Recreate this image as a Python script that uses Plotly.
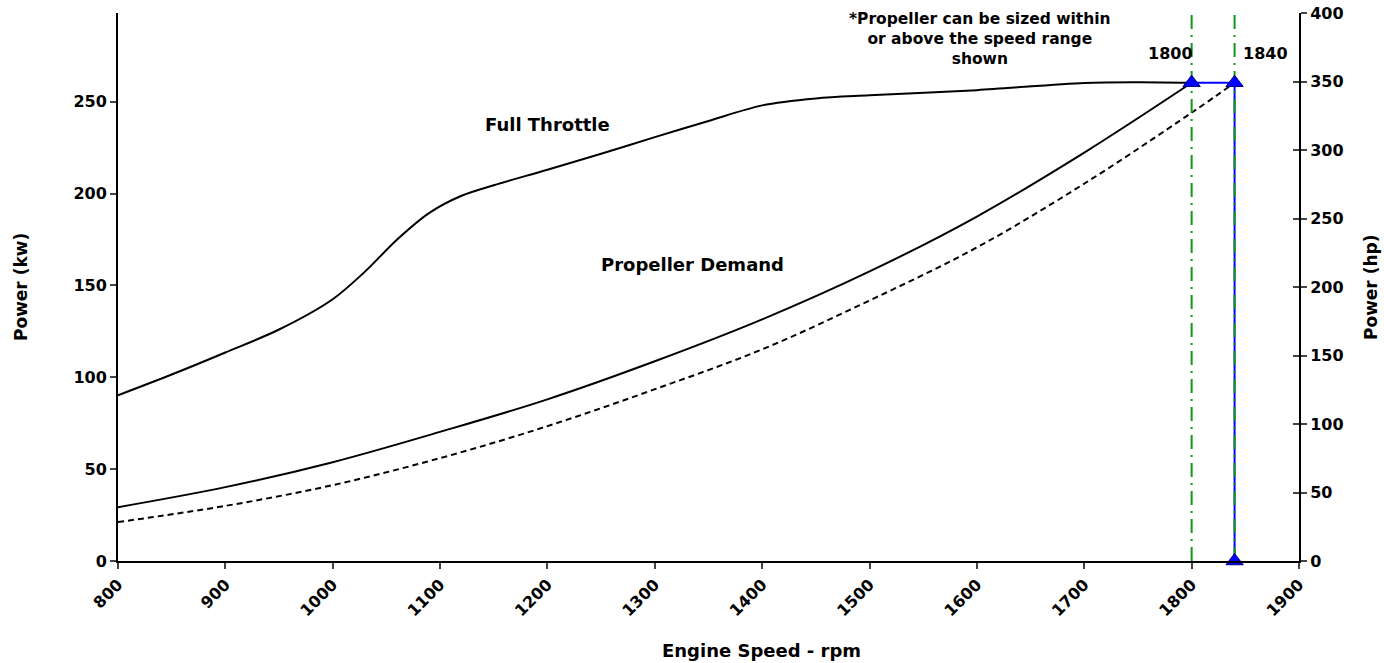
import plotly.graph_objects as go

# Data
rpm = [800, 850, 900, 950, 1000, 1030, 1060, 1090, 1120, 1150, 1200, 1250, 1300, 1350, 1400, 1450, 1500, 1600, 1700, 1750, 1800]
full_throttle_kw = [90.2, 101.5, 113.5, 126.0, 142.5, 157.5, 175.0, 189.5, 198.8, 204.5, 213.0, 221.7, 230.7, 239.5, 248.0, 251.8, 253.5, 256.3, 260.2, 260.6, 260.3]

prop_rpm = [800, 900, 1000, 1100, 1200, 1300, 1400, 1500, 1600, 1700, 1800]
prop_demand_kw = [29.3, 40.2, 53.8, 70.3, 88.0, 108.7, 131.5, 157.6, 187.5, 222.3, 260.3]

prop2_rpm = [800, 900, 1000, 1100, 1200, 1300, 1400, 1500, 1600, 1700, 1800, 1840]
prop2_kw = [21.2, 30.0, 41.3, 56.0, 73.4, 93.5, 115.2, 141.8, 170.7, 205.4, 244.0, 260.3]

rated_rpm = [1800, 1840]
rated_kw = 260.3
hp_to_kw = 0.7457
hp_max = 400
kw_max = hp_max * hp_to_kw

x_ticks = list(range(800, 2000, 100))
kw_ticks = list(range(0, 300, 50))
hp_ticks = list(range(0, 450, 50))

FAM = "DejaVu Sans, Arial, sans-serif"
font = dict(family=FAM, size=16, color="black")
bold = lambda s: "<b>" + s + "</b>"

fig = go.Figure()

fig.add_trace(go.Scatter(x=rpm, y=full_throttle_kw, mode="lines",
                         line=dict(color="black", width=2, shape="spline", smoothing=0.9), showlegend=False))
fig.add_trace(go.Scatter(x=prop_rpm, y=prop_demand_kw, mode="lines",
                         line=dict(color="black", width=2, shape="spline"), showlegend=False))
fig.add_trace(go.Scatter(x=prop2_rpm, y=prop2_kw, mode="lines",
                         line=dict(color="black", width=2, dash="6px,4px", shape="spline"), showlegend=False))

# Blue rated line
fig.add_trace(go.Scatter(x=[rated_rpm[0], rated_rpm[1], rated_rpm[1]], y=[rated_kw, rated_kw, 0], mode="lines",
                         line=dict(color="#0000ff", width=2), showlegend=False))

# Green dash-dot verticals
for r in rated_rpm:
    fig.add_trace(go.Scatter(x=[r, r], y=[0, kw_max], mode="lines",
                             line=dict(color="#12961a", width=2, dash="14px,6px,2px,6px"), showlegend=False))

# Markers
fig.add_trace(go.Scatter(x=[rated_rpm[0], rated_rpm[1], rated_rpm[1]], y=[rated_kw, rated_kw, 0], mode="markers",
                         marker=dict(symbol="triangle-up", size=15, color="#0000ff", line=dict(color="#000080", width=1)),
                         showlegend=False, cliponaxis=False))

# hp axis helper traces (invisible)
fig.add_trace(go.Scatter(x=[800], y=[0], yaxis="y2", mode="markers", marker=dict(opacity=0), showlegend=False, hoverinfo="skip"))
fig.add_trace(go.Scatter(x=[800], y=[0], yaxis="y3", mode="markers", marker=dict(opacity=0), showlegend=False, hoverinfo="skip"))

anns = [
    dict(x=1200, y=237.5, text=bold("Full Throttle"), font=dict(size=18)),
    dict(x=1335, y=161.4, text=bold("Propeller Demand"), font=dict(size=18)),
    dict(x=1780, y=276, text=bold("1800")),
    dict(x=1869, y=276, text=bold("1840")),
    dict(x=1603, y=284, text=bold("*Propeller can be sized within<br>or above the speed range<br>shown"), font=dict(size=15.5)),
]
for a in anns:
    f = dict(font)
    f.update(a.pop("font", {}))
    fig.add_annotation(xref="x", yref="y", showarrow=False, font=f, xanchor="center", yanchor="middle", **a)

# Body margin is removed in the page, so figure pixels == page pixels
W, H = 1384, 663
PL, PT, PW, PH = 118, 13, 1181, 548
def px_to_paper(px, py):
    return (px - PL) / PW, 1 - (py - PT) / PH

titles = [
    (761, 650, "Engine Speed - rpm", 0, 18),
    (21, 287, "Power (kw)", -90, 17),
    (1371, 287, "Power (hp)", -90, 17),
]
for px, py, txt, ang, sz in titles:
    tx, ty = px_to_paper(px, py)
    fig.add_annotation(xref="paper", yref="paper", x=tx, y=ty, text=bold(txt), showarrow=False, textangle=ang,
                       xanchor="center", yanchor="middle",
                       font=dict(family=FAM, size=sz, color="black"))

fig.update_layout(
    width=W, height=H,
    margin=dict(l=PL, r=W - PL - PW, t=PT, b=H - PT - PH, autoexpand=False),
    plot_bgcolor="white", paper_bgcolor="white",
    font=font,
    xaxis=dict(range=[800, 1900], tickvals=x_ticks, automargin=False, ticklabeloverflow="allow",
               ticktext=[bold(str(v)) for v in x_ticks], tickangle=-45,
               ticks="outside", ticklen=6, tickwidth=2, showline=True, linewidth=2, linecolor="black",
               showgrid=False, zeroline=False),
    yaxis=dict(range=[0, kw_max], tickvals=kw_ticks, ticktext=[bold(str(v)) for v in kw_ticks], automargin=False,
               ticklabeloverflow="allow",
               ticks="outside", ticklen=6, tickwidth=2, showline=True, linewidth=2, linecolor="black",
               showgrid=False, zeroline=False),
    yaxis2=dict(range=[0, hp_max], overlaying="y", side="right", tickvals=hp_ticks, automargin=False,
                ticklabeloverflow="allow",
                ticktext=[bold(str(v)) for v in hp_ticks],
                ticks="outside", ticklen=6, tickwidth=2, showline=True, linewidth=2, linecolor="black",
                showgrid=False, zeroline=False),
    yaxis3=dict(range=[0, hp_max], overlaying="y", side="right", tickvals=hp_ticks, automargin=False,
                showticklabels=False, ticks="inside", ticklen=6, tickwidth=2, showline=False,
                showgrid=False, zeroline=False),
)

fig.write_html("out.html", config={"displayModeBar": False},
               post_script="document.body.style.margin='0px'; document.body.style.overflow='hidden';")
